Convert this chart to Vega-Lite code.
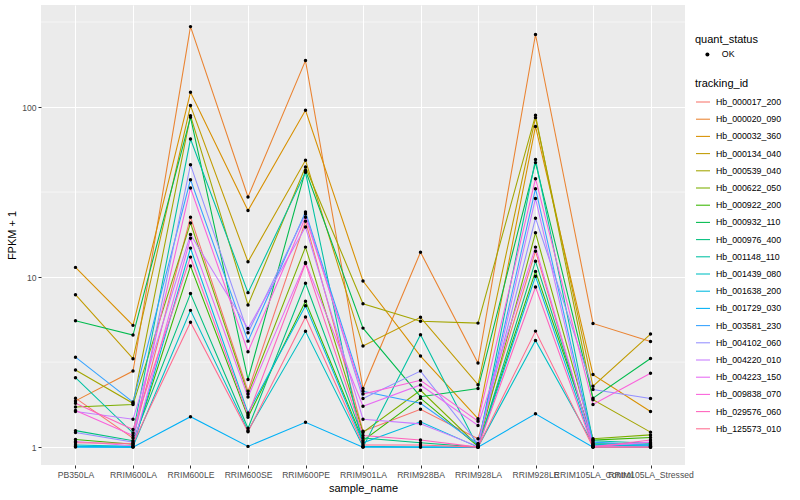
{
"$schema": "https://vega.github.io/schema/vega-lite/v6.json",
"width": 644, "height": 460,
"autosize": {"type": "none"},
"padding": {"left": 41, "top": 5, "right": 115, "bottom": 35},
"background": "white",
"config": {
  "font": "Liberation Sans",
  "view": {"fill": "#EBEBEB", "stroke": null},
  "axis": {"gridColor": "white", "gridWidth": 1.07, "domain": false, "tickColor": "#333333", "tickSize": 3, "tickWidth": 1, "labelColor": "#4D4D4D", "labelFontSize": 8.6, "labelPadding": 2, "titleFontSize": 11, "titleFontWeight": "normal", "titleColor": "black", "titlePadding": 4},
  "legend": {"titleFontSize": 11, "titleFontWeight": "normal", "titleColor": "black", "labelFontSize": 8.8, "labelColor": "black", "titlePadding": 5}
},
"datasets": {
"minor": [{"minor_break": 3.1623}, {"minor_break": 31.623}, {"minor_break": 316.23}],
"fpkm": [
{"tracking_id":"Hb_000017_200","sample_name":"PB350LA","FPKM":1.94},
{"tracking_id":"Hb_000017_200","sample_name":"RRIM600LA","FPKM":1.13},
{"tracking_id":"Hb_000017_200","sample_name":"RRIM600LE","FPKM":22.5},
{"tracking_id":"Hb_000017_200","sample_name":"RRIM600SE","FPKM":2.13},
{"tracking_id":"Hb_000017_200","sample_name":"RRIM600PE","FPKM":21.3},
{"tracking_id":"Hb_000017_200","sample_name":"RRIM901LA","FPKM":1.24},
{"tracking_id":"Hb_000017_200","sample_name":"RRIM928BA","FPKM":1.67},
{"tracking_id":"Hb_000017_200","sample_name":"RRIM928LA","FPKM":1.12},
{"tracking_id":"Hb_000017_200","sample_name":"RRIM928LE","FPKM":14.2},
{"tracking_id":"Hb_000017_200","sample_name":"RRIM105LA_Control","FPKM":1.03},
{"tracking_id":"Hb_000017_200","sample_name":"RRIM105LA_Stressed","FPKM":1.0},
{"tracking_id":"Hb_000020_090","sample_name":"PB350LA","FPKM":1.87},
{"tracking_id":"Hb_000020_090","sample_name":"RRIM600LA","FPKM":2.8},
{"tracking_id":"Hb_000020_090","sample_name":"RRIM600LE","FPKM":297},
{"tracking_id":"Hb_000020_090","sample_name":"RRIM600SE","FPKM":29.6},
{"tracking_id":"Hb_000020_090","sample_name":"RRIM600PE","FPKM":187.5},
{"tracking_id":"Hb_000020_090","sample_name":"RRIM901LA","FPKM":2.21},
{"tracking_id":"Hb_000020_090","sample_name":"RRIM928BA","FPKM":14.0},
{"tracking_id":"Hb_000020_090","sample_name":"RRIM928LA","FPKM":3.12},
{"tracking_id":"Hb_000020_090","sample_name":"RRIM928LE","FPKM":267},
{"tracking_id":"Hb_000020_090","sample_name":"RRIM105LA_Control","FPKM":5.34},
{"tracking_id":"Hb_000020_090","sample_name":"RRIM105LA_Stressed","FPKM":4.18},
{"tracking_id":"Hb_000032_360","sample_name":"PB350LA","FPKM":11.4},
{"tracking_id":"Hb_000032_360","sample_name":"RRIM600LA","FPKM":5.2},
{"tracking_id":"Hb_000032_360","sample_name":"RRIM600LE","FPKM":122},
{"tracking_id":"Hb_000032_360","sample_name":"RRIM600SE","FPKM":24.6},
{"tracking_id":"Hb_000032_360","sample_name":"RRIM600PE","FPKM":95.7},
{"tracking_id":"Hb_000032_360","sample_name":"RRIM901LA","FPKM":9.48},
{"tracking_id":"Hb_000032_360","sample_name":"RRIM928BA","FPKM":3.43},
{"tracking_id":"Hb_000032_360","sample_name":"RRIM928LA","FPKM":1.47},
{"tracking_id":"Hb_000032_360","sample_name":"RRIM928LE","FPKM":76.9},
{"tracking_id":"Hb_000032_360","sample_name":"RRIM105LA_Control","FPKM":2.67},
{"tracking_id":"Hb_000032_360","sample_name":"RRIM105LA_Stressed","FPKM":1.62},
{"tracking_id":"Hb_000134_040","sample_name":"PB350LA","FPKM":7.88},
{"tracking_id":"Hb_000134_040","sample_name":"RRIM600LA","FPKM":3.31},
{"tracking_id":"Hb_000134_040","sample_name":"RRIM600LE","FPKM":102},
{"tracking_id":"Hb_000134_040","sample_name":"RRIM600SE","FPKM":12.3},
{"tracking_id":"Hb_000134_040","sample_name":"RRIM600PE","FPKM":48.6},
{"tracking_id":"Hb_000134_040","sample_name":"RRIM901LA","FPKM":3.93},
{"tracking_id":"Hb_000134_040","sample_name":"RRIM928BA","FPKM":5.8},
{"tracking_id":"Hb_000134_040","sample_name":"RRIM928LA","FPKM":2.33},
{"tracking_id":"Hb_000134_040","sample_name":"RRIM928LE","FPKM":86.6},
{"tracking_id":"Hb_000134_040","sample_name":"RRIM105LA_Control","FPKM":2.28},
{"tracking_id":"Hb_000134_040","sample_name":"RRIM105LA_Stressed","FPKM":4.62},
{"tracking_id":"Hb_000539_040","sample_name":"PB350LA","FPKM":2.84},
{"tracking_id":"Hb_000539_040","sample_name":"RRIM600LA","FPKM":1.81},
{"tracking_id":"Hb_000539_040","sample_name":"RRIM600LE","FPKM":89},
{"tracking_id":"Hb_000539_040","sample_name":"RRIM600SE","FPKM":6.86},
{"tracking_id":"Hb_000539_040","sample_name":"RRIM600PE","FPKM":44.4},
{"tracking_id":"Hb_000539_040","sample_name":"RRIM901LA","FPKM":6.97},
{"tracking_id":"Hb_000539_040","sample_name":"RRIM928BA","FPKM":5.5},
{"tracking_id":"Hb_000539_040","sample_name":"RRIM928LA","FPKM":5.36},
{"tracking_id":"Hb_000539_040","sample_name":"RRIM928LE","FPKM":89.4},
{"tracking_id":"Hb_000539_040","sample_name":"RRIM105LA_Control","FPKM":1.9},
{"tracking_id":"Hb_000539_040","sample_name":"RRIM105LA_Stressed","FPKM":1.225},
{"tracking_id":"Hb_000622_050","sample_name":"PB350LA","FPKM":1.72},
{"tracking_id":"Hb_000622_050","sample_name":"RRIM600LA","FPKM":1.78},
{"tracking_id":"Hb_000622_050","sample_name":"RRIM600LE","FPKM":20.8},
{"tracking_id":"Hb_000622_050","sample_name":"RRIM600SE","FPKM":2.05},
{"tracking_id":"Hb_000622_050","sample_name":"RRIM600PE","FPKM":15.0},
{"tracking_id":"Hb_000622_050","sample_name":"RRIM901LA","FPKM":1.22},
{"tracking_id":"Hb_000622_050","sample_name":"RRIM928BA","FPKM":2.16},
{"tracking_id":"Hb_000622_050","sample_name":"RRIM928LA","FPKM":1.02},
{"tracking_id":"Hb_000622_050","sample_name":"RRIM928LE","FPKM":18.2},
{"tracking_id":"Hb_000622_050","sample_name":"RRIM105LA_Control","FPKM":1.12},
{"tracking_id":"Hb_000622_050","sample_name":"RRIM105LA_Stressed","FPKM":1.18},
{"tracking_id":"Hb_000922_200","sample_name":"PB350LA","FPKM":1.11},
{"tracking_id":"Hb_000922_200","sample_name":"RRIM600LA","FPKM":1.04},
{"tracking_id":"Hb_000922_200","sample_name":"RRIM600LE","FPKM":11.6},
{"tracking_id":"Hb_000922_200","sample_name":"RRIM600SE","FPKM":1.5},
{"tracking_id":"Hb_000922_200","sample_name":"RRIM600PE","FPKM":7.2},
{"tracking_id":"Hb_000922_200","sample_name":"RRIM901LA","FPKM":1.09},
{"tracking_id":"Hb_000922_200","sample_name":"RRIM928BA","FPKM":1.94},
{"tracking_id":"Hb_000922_200","sample_name":"RRIM928LA","FPKM":1.01},
{"tracking_id":"Hb_000922_200","sample_name":"RRIM928LE","FPKM":10.8},
{"tracking_id":"Hb_000922_200","sample_name":"RRIM105LA_Control","FPKM":1.1},
{"tracking_id":"Hb_000922_200","sample_name":"RRIM105LA_Stressed","FPKM":1.14},
{"tracking_id":"Hb_000932_110","sample_name":"PB350LA","FPKM":5.54},
{"tracking_id":"Hb_000932_110","sample_name":"RRIM600LA","FPKM":4.56},
{"tracking_id":"Hb_000932_110","sample_name":"RRIM600LE","FPKM":87},
{"tracking_id":"Hb_000932_110","sample_name":"RRIM600SE","FPKM":2.5},
{"tracking_id":"Hb_000932_110","sample_name":"RRIM600PE","FPKM":42.4},
{"tracking_id":"Hb_000932_110","sample_name":"RRIM901LA","FPKM":5.01},
{"tracking_id":"Hb_000932_110","sample_name":"RRIM928BA","FPKM":1.98},
{"tracking_id":"Hb_000932_110","sample_name":"RRIM928LA","FPKM":2.21},
{"tracking_id":"Hb_000932_110","sample_name":"RRIM928LE","FPKM":47.1},
{"tracking_id":"Hb_000932_110","sample_name":"RRIM105LA_Control","FPKM":1.94},
{"tracking_id":"Hb_000932_110","sample_name":"RRIM105LA_Stressed","FPKM":3.32},
{"tracking_id":"Hb_000976_400","sample_name":"PB350LA","FPKM":1.25},
{"tracking_id":"Hb_000976_400","sample_name":"RRIM600LA","FPKM":1.09},
{"tracking_id":"Hb_000976_400","sample_name":"RRIM600LE","FPKM":8.0},
{"tracking_id":"Hb_000976_400","sample_name":"RRIM600SE","FPKM":1.29},
{"tracking_id":"Hb_000976_400","sample_name":"RRIM600PE","FPKM":9.2},
{"tracking_id":"Hb_000976_400","sample_name":"RRIM901LA","FPKM":1.13},
{"tracking_id":"Hb_000976_400","sample_name":"RRIM928BA","FPKM":1.06},
{"tracking_id":"Hb_000976_400","sample_name":"RRIM928LA","FPKM":1.0},
{"tracking_id":"Hb_000976_400","sample_name":"RRIM928LE","FPKM":12.4},
{"tracking_id":"Hb_000976_400","sample_name":"RRIM105LA_Control","FPKM":1.05},
{"tracking_id":"Hb_000976_400","sample_name":"RRIM105LA_Stressed","FPKM":1.04},
{"tracking_id":"Hb_001148_110","sample_name":"PB350LA","FPKM":2.56},
{"tracking_id":"Hb_001148_110","sample_name":"RRIM600LA","FPKM":1.21},
{"tracking_id":"Hb_001148_110","sample_name":"RRIM600LE","FPKM":64.8},
{"tracking_id":"Hb_001148_110","sample_name":"RRIM600SE","FPKM":8.1},
{"tracking_id":"Hb_001148_110","sample_name":"RRIM600PE","FPKM":41.3},
{"tracking_id":"Hb_001148_110","sample_name":"RRIM901LA","FPKM":1.0},
{"tracking_id":"Hb_001148_110","sample_name":"RRIM928BA","FPKM":4.58},
{"tracking_id":"Hb_001148_110","sample_name":"RRIM928LA","FPKM":1.0},
{"tracking_id":"Hb_001148_110","sample_name":"RRIM928LE","FPKM":49.2},
{"tracking_id":"Hb_001148_110","sample_name":"RRIM105LA_Control","FPKM":1.09},
{"tracking_id":"Hb_001148_110","sample_name":"RRIM105LA_Stressed","FPKM":1.055},
{"tracking_id":"Hb_001439_080","sample_name":"PB350LA","FPKM":1.03},
{"tracking_id":"Hb_001439_080","sample_name":"RRIM600LA","FPKM":1.01},
{"tracking_id":"Hb_001439_080","sample_name":"RRIM600LE","FPKM":6.37},
{"tracking_id":"Hb_001439_080","sample_name":"RRIM600SE","FPKM":1.25},
{"tracking_id":"Hb_001439_080","sample_name":"RRIM600PE","FPKM":4.8},
{"tracking_id":"Hb_001439_080","sample_name":"RRIM901LA","FPKM":1.01},
{"tracking_id":"Hb_001439_080","sample_name":"RRIM928BA","FPKM":1.0},
{"tracking_id":"Hb_001439_080","sample_name":"RRIM928LA","FPKM":1.0},
{"tracking_id":"Hb_001439_080","sample_name":"RRIM928LE","FPKM":4.24},
{"tracking_id":"Hb_001439_080","sample_name":"RRIM105LA_Control","FPKM":1.04},
{"tracking_id":"Hb_001439_080","sample_name":"RRIM105LA_Stressed","FPKM":1.01},
{"tracking_id":"Hb_001638_200","sample_name":"PB350LA","FPKM":1.01},
{"tracking_id":"Hb_001638_200","sample_name":"RRIM600LA","FPKM":1.0},
{"tracking_id":"Hb_001638_200","sample_name":"RRIM600LE","FPKM":14.8},
{"tracking_id":"Hb_001638_200","sample_name":"RRIM600SE","FPKM":1.59},
{"tracking_id":"Hb_001638_200","sample_name":"RRIM600PE","FPKM":6.79},
{"tracking_id":"Hb_001638_200","sample_name":"RRIM901LA","FPKM":1.06},
{"tracking_id":"Hb_001638_200","sample_name":"RRIM928BA","FPKM":1.41},
{"tracking_id":"Hb_001638_200","sample_name":"RRIM928LA","FPKM":1.0},
{"tracking_id":"Hb_001638_200","sample_name":"RRIM928LE","FPKM":10.1},
{"tracking_id":"Hb_001638_200","sample_name":"RRIM105LA_Control","FPKM":1.02},
{"tracking_id":"Hb_001638_200","sample_name":"RRIM105LA_Stressed","FPKM":1.02},
{"tracking_id":"Hb_001729_030","sample_name":"PB350LA","FPKM":1.0},
{"tracking_id":"Hb_001729_030","sample_name":"RRIM600LA","FPKM":1.0},
{"tracking_id":"Hb_001729_030","sample_name":"RRIM600LE","FPKM":1.51},
{"tracking_id":"Hb_001729_030","sample_name":"RRIM600SE","FPKM":1.01},
{"tracking_id":"Hb_001729_030","sample_name":"RRIM600PE","FPKM":1.4},
{"tracking_id":"Hb_001729_030","sample_name":"RRIM901LA","FPKM":1.0},
{"tracking_id":"Hb_001729_030","sample_name":"RRIM928BA","FPKM":1.0},
{"tracking_id":"Hb_001729_030","sample_name":"RRIM928LA","FPKM":1.0},
{"tracking_id":"Hb_001729_030","sample_name":"RRIM928LE","FPKM":1.57},
{"tracking_id":"Hb_001729_030","sample_name":"RRIM105LA_Control","FPKM":1.0},
{"tracking_id":"Hb_001729_030","sample_name":"RRIM105LA_Stressed","FPKM":1.0},
{"tracking_id":"Hb_003581_230","sample_name":"PB350LA","FPKM":3.38},
{"tracking_id":"Hb_003581_230","sample_name":"RRIM600LA","FPKM":1.84},
{"tracking_id":"Hb_003581_230","sample_name":"RRIM600LE","FPKM":37.4},
{"tracking_id":"Hb_003581_230","sample_name":"RRIM600SE","FPKM":4.2},
{"tracking_id":"Hb_003581_230","sample_name":"RRIM600PE","FPKM":24.1},
{"tracking_id":"Hb_003581_230","sample_name":"RRIM901LA","FPKM":2.13},
{"tracking_id":"Hb_003581_230","sample_name":"RRIM928BA","FPKM":1.81},
{"tracking_id":"Hb_003581_230","sample_name":"RRIM928LA","FPKM":1.04},
{"tracking_id":"Hb_003581_230","sample_name":"RRIM928LE","FPKM":33.1},
{"tracking_id":"Hb_003581_230","sample_name":"RRIM105LA_Control","FPKM":1.07},
{"tracking_id":"Hb_003581_230","sample_name":"RRIM105LA_Stressed","FPKM":1.03},
{"tracking_id":"Hb_004102_060","sample_name":"PB350LA","FPKM":1.22},
{"tracking_id":"Hb_004102_060","sample_name":"RRIM600LA","FPKM":1.07},
{"tracking_id":"Hb_004102_060","sample_name":"RRIM600LE","FPKM":45.8},
{"tracking_id":"Hb_004102_060","sample_name":"RRIM600SE","FPKM":4.7},
{"tracking_id":"Hb_004102_060","sample_name":"RRIM600PE","FPKM":23.5},
{"tracking_id":"Hb_004102_060","sample_name":"RRIM901LA","FPKM":1.93},
{"tracking_id":"Hb_004102_060","sample_name":"RRIM928BA","FPKM":2.8},
{"tracking_id":"Hb_004102_060","sample_name":"RRIM928LA","FPKM":1.05},
{"tracking_id":"Hb_004102_060","sample_name":"RRIM928LE","FPKM":22.2},
{"tracking_id":"Hb_004102_060","sample_name":"RRIM105LA_Control","FPKM":2.18},
{"tracking_id":"Hb_004102_060","sample_name":"RRIM105LA_Stressed","FPKM":1.93},
{"tracking_id":"Hb_004220_010","sample_name":"PB350LA","FPKM":1.62},
{"tracking_id":"Hb_004220_010","sample_name":"RRIM600LA","FPKM":1.46},
{"tracking_id":"Hb_004220_010","sample_name":"RRIM600LE","FPKM":17.8},
{"tracking_id":"Hb_004220_010","sample_name":"RRIM600SE","FPKM":4.99},
{"tracking_id":"Hb_004220_010","sample_name":"RRIM600PE","FPKM":19.7},
{"tracking_id":"Hb_004220_010","sample_name":"RRIM901LA","FPKM":1.46},
{"tracking_id":"Hb_004220_010","sample_name":"RRIM928BA","FPKM":1.37},
{"tracking_id":"Hb_004220_010","sample_name":"RRIM928LA","FPKM":1.01},
{"tracking_id":"Hb_004220_010","sample_name":"RRIM928LE","FPKM":29.0},
{"tracking_id":"Hb_004220_010","sample_name":"RRIM105LA_Control","FPKM":1.01},
{"tracking_id":"Hb_004220_010","sample_name":"RRIM105LA_Stressed","FPKM":1.0},
{"tracking_id":"Hb_004223_150","sample_name":"PB350LA","FPKM":1.08},
{"tracking_id":"Hb_004223_150","sample_name":"RRIM600LA","FPKM":1.02},
{"tracking_id":"Hb_004223_150","sample_name":"RRIM600LE","FPKM":16.9},
{"tracking_id":"Hb_004223_150","sample_name":"RRIM600SE","FPKM":1.97},
{"tracking_id":"Hb_004223_150","sample_name":"RRIM600PE","FPKM":12.2},
{"tracking_id":"Hb_004223_150","sample_name":"RRIM901LA","FPKM":1.74},
{"tracking_id":"Hb_004223_150","sample_name":"RRIM928BA","FPKM":2.32},
{"tracking_id":"Hb_004223_150","sample_name":"RRIM928LA","FPKM":1.34},
{"tracking_id":"Hb_004223_150","sample_name":"RRIM928LE","FPKM":15.0},
{"tracking_id":"Hb_004223_150","sample_name":"RRIM105LA_Control","FPKM":1.01},
{"tracking_id":"Hb_004223_150","sample_name":"RRIM105LA_Stressed","FPKM":1.07},
{"tracking_id":"Hb_009838_070","sample_name":"PB350LA","FPKM":1.64},
{"tracking_id":"Hb_009838_070","sample_name":"RRIM600LA","FPKM":1.17},
{"tracking_id":"Hb_009838_070","sample_name":"RRIM600LE","FPKM":33.4},
{"tracking_id":"Hb_009838_070","sample_name":"RRIM600SE","FPKM":3.64},
{"tracking_id":"Hb_009838_070","sample_name":"RRIM600PE","FPKM":22.5},
{"tracking_id":"Hb_009838_070","sample_name":"RRIM901LA","FPKM":2.05},
{"tracking_id":"Hb_009838_070","sample_name":"RRIM928BA","FPKM":2.47},
{"tracking_id":"Hb_009838_070","sample_name":"RRIM928LA","FPKM":1.42},
{"tracking_id":"Hb_009838_070","sample_name":"RRIM928LE","FPKM":37.9},
{"tracking_id":"Hb_009838_070","sample_name":"RRIM105LA_Control","FPKM":1.78},
{"tracking_id":"Hb_009838_070","sample_name":"RRIM105LA_Stressed","FPKM":2.72},
{"tracking_id":"Hb_029576_060","sample_name":"PB350LA","FPKM":1.81},
{"tracking_id":"Hb_029576_060","sample_name":"RRIM600LA","FPKM":1.27},
{"tracking_id":"Hb_029576_060","sample_name":"RRIM600LE","FPKM":13.1},
{"tracking_id":"Hb_029576_060","sample_name":"RRIM600SE","FPKM":1.54},
{"tracking_id":"Hb_029576_060","sample_name":"RRIM600PE","FPKM":12.0},
{"tracking_id":"Hb_029576_060","sample_name":"RRIM901LA","FPKM":1.17},
{"tracking_id":"Hb_029576_060","sample_name":"RRIM928BA","FPKM":1.1},
{"tracking_id":"Hb_029576_060","sample_name":"RRIM928LA","FPKM":1.0},
{"tracking_id":"Hb_029576_060","sample_name":"RRIM928LE","FPKM":8.73},
{"tracking_id":"Hb_029576_060","sample_name":"RRIM105LA_Control","FPKM":1.0},
{"tracking_id":"Hb_029576_060","sample_name":"RRIM105LA_Stressed","FPKM":1.1},
{"tracking_id":"Hb_125573_010","sample_name":"PB350LA","FPKM":1.06},
{"tracking_id":"Hb_125573_010","sample_name":"RRIM600LA","FPKM":1.05},
{"tracking_id":"Hb_125573_010","sample_name":"RRIM600LE","FPKM":5.42},
{"tracking_id":"Hb_125573_010","sample_name":"RRIM600SE","FPKM":1.23},
{"tracking_id":"Hb_125573_010","sample_name":"RRIM600PE","FPKM":5.82},
{"tracking_id":"Hb_125573_010","sample_name":"RRIM901LA","FPKM":1.03},
{"tracking_id":"Hb_125573_010","sample_name":"RRIM928BA","FPKM":1.03},
{"tracking_id":"Hb_125573_010","sample_name":"RRIM928LA","FPKM":1.0},
{"tracking_id":"Hb_125573_010","sample_name":"RRIM928LE","FPKM":4.81},
{"tracking_id":"Hb_125573_010","sample_name":"RRIM105LA_Control","FPKM":1.0},
{"tracking_id":"Hb_125573_010","sample_name":"RRIM105LA_Stressed","FPKM":1.0}
]},
"layer": [
  {
    "data": {"name": "minor"},
    "mark": {"type": "rule", "color": "white", "strokeWidth": 0.55},
    "encoding": {
      "y": {"field": "minor_break", "type": "quantitative", "title": "FPKM + 1",
            "scale": {"type": "log", "domain": [0.785, 398], "nice": false}}
    }
  },
  {
    "data": {"name": "fpkm"},
    "mark": {"type": "line", "strokeWidth": 1.07},
    "encoding": {
      "x": {"field": "sample_name", "type": "nominal", "title": "sample_name",
            "sort": ["PB350LA","RRIM600LA","RRIM600LE","RRIM600SE","RRIM600PE","RRIM901LA","RRIM928BA","RRIM928LA","RRIM928LE","RRIM105LA_Control","RRIM105LA_Stressed"],
            "scale": {"type": "point", "padding": 0.6},
            "axis": {"labelAngle": 0, "grid": true, "labelOverlap": false, "labelBound": false, "labelFlush": false}},
      "y": {"field": "FPKM", "type": "quantitative", "title": "FPKM + 1",
            "scale": {"type": "log", "domain": [0.785, 398], "nice": false},
            "axis": {"values": [1, 10, 100], "format": "d", "grid": true}},
      "color": {"field": "tracking_id", "type": "nominal",
                "scale": {"domain": ["Hb_000017_200","Hb_000020_090","Hb_000032_360","Hb_000134_040","Hb_000539_040","Hb_000622_050","Hb_000922_200","Hb_000932_110","Hb_000976_400","Hb_001148_110","Hb_001439_080","Hb_001638_200","Hb_001729_030","Hb_003581_230","Hb_004102_060","Hb_004220_010","Hb_004223_150","Hb_009838_070","Hb_029576_060","Hb_125573_010"],
                          "range": ["#F8766D","#EA8331","#D89000","#C09B00","#A3A500","#7CAE00","#39B600","#00BB4E","#00BF7D","#00C1A3","#00BFC4","#00BAE0","#00B0F6","#35A2FF","#9590FF","#C77CFF","#E76BF3","#FA62DB","#FF62BC","#FF6C90"]},
                "legend": {"title": "tracking_id", "orient": "none", "legendX": 654, "legendY": 73, "symbolType": "stroke", "symbolSize": 196, "symbolStrokeWidth": 1.07, "rowPadding": 4.2, "labelOffset": 5}}
    }
  },
  {
    "data": {"name": "fpkm"},
    "mark": {"type": "point", "filled": true, "size": 12, "color": "black", "opacity": 1},
    "encoding": {
      "x": {"field": "sample_name", "type": "nominal",
            "sort": ["PB350LA","RRIM600LA","RRIM600LE","RRIM600SE","RRIM600PE","RRIM901LA","RRIM928BA","RRIM928LA","RRIM928LE","RRIM105LA_Control","RRIM105LA_Stressed"]},
      "y": {"field": "FPKM", "type": "quantitative", "title": "FPKM + 1"},
      "shape": {"datum": "OK", "type": "nominal", "scale": {"range": ["circle"]},
                "legend": {"title": "quant_status", "orient": "none", "legendX": 654, "legendY": 29, "symbolFillColor": "black", "symbolStrokeColor": "black", "symbolSize": 16, "symbolOffset": 8, "labelOffset": 10}}
    }
  }
]
}
